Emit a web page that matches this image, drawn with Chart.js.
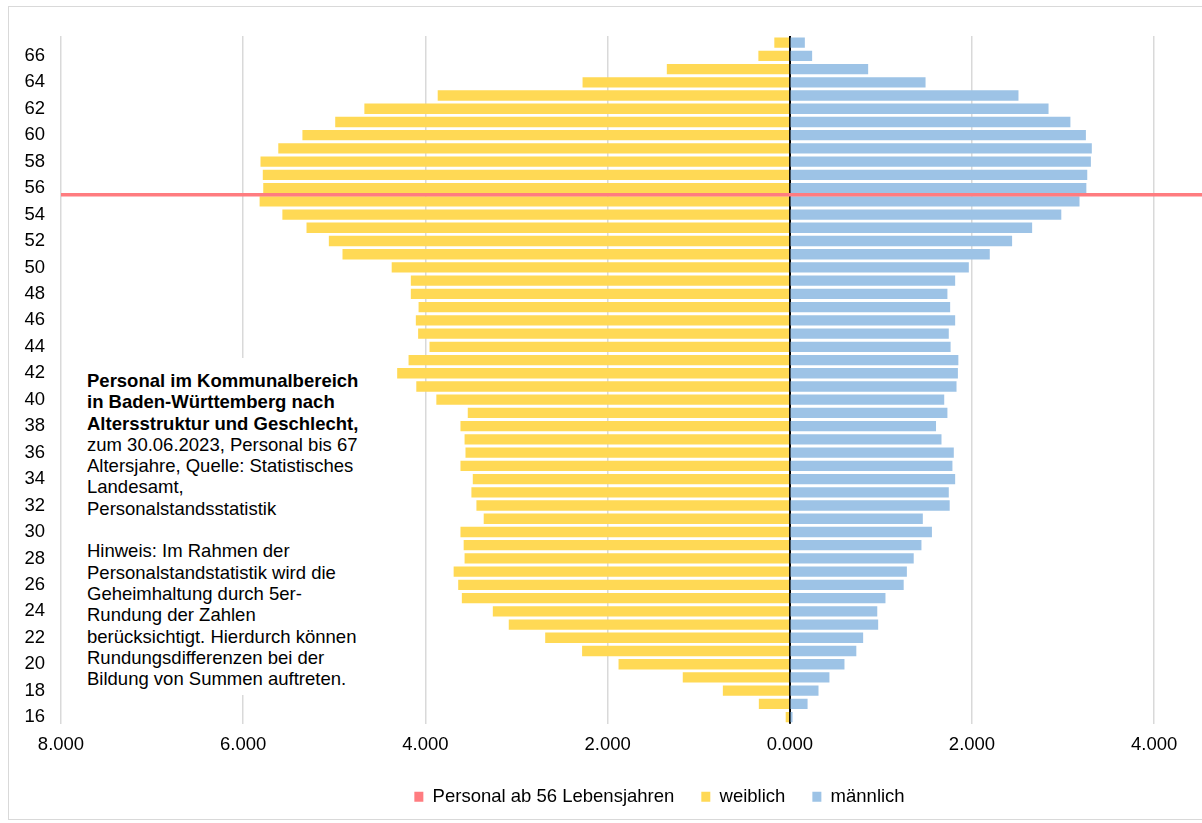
<!DOCTYPE html>
<html lang="de">
<head>
<meta charset="utf-8">
<title>Personal im Kommunalbereich Baden-Württemberg</title>
<script src="https://cdn.jsdelivr.net/npm/chart.js@4/dist/chart.umd.min.js"></script>
<style>
html, body { margin: 0; padding: 0; overflow: hidden; background: #fff; width: 1202px; height: 823px; }
#frame { position: absolute; left: 8px; top: 6px; width: 1310px; height: 812px; border: 1px solid #d9d9d9; }
#note {
    position: absolute; left: 80px; top: 358px; width: 295px; height: 337px;
    box-sizing: border-box; padding: 12px 0 0 7px; background: #fff;
    font: 18.5px/21.3px "Liberation Sans", Arial, sans-serif; color: #000; white-space: nowrap;
}
</style>
</head>
<body>
<div id="frame"><canvas id="pyramid"></canvas></div>
<div id="note"><b>Personal im Kommunalbereich<br>in Baden-Württemberg nach<br>Altersstruktur und Geschlecht,</b><br>zum 30.06.2023, Personal bis 67<br>Altersjahre, Quelle: Statistisches<br>Landesamt,<br>Personalstandsstatistik<br><br>Hinweis: Im Rahmen der<br>Personalstandstatistik wird die<br>Geheimhaltung durch 5er-<br>Rundung der Zahlen<br>berücksichtigt. Hierdurch können<br>Rundungsdifferenzen bei der<br>Bildung von Summen auftreten.</div>
<script>
// Altersjahre 16 .. 67
const ages = [16, 17, 18, 19, 20, 21, 22, 23, 24, 25, 26, 27, 28, 29, 30, 31, 32, 33, 34, 35, 36, 37, 38, 39, 40, 41,
    42, 43, 44, 45, 46, 47, 48, 49, 50, 51, 52, 53, 54, 55, 56, 57, 58, 59, 60, 61, 62, 63, 64, 65, 66, 67];
const weiblich = [45, 340, 735, 1175, 1880, 2280, 2685, 3085, 3260, 3600, 3640, 3690, 3570, 3580, 3615, 3360, 3440,
    3495, 3480, 3615, 3560, 3570, 3615, 3535, 3880, 4100, 4310, 4185, 3955, 4080, 4105, 4075, 4160, 4160, 4370, 4910,
    5060, 5305, 5570, 5820, 5780, 5785, 5810, 5615, 5350, 4990, 4670, 3865, 2275, 1350, 345, 170];
const maennlich = [30, 195, 315, 435, 600, 730, 805, 970, 960, 1050, 1250, 1285, 1360, 1445, 1560, 1460, 1755,
    1745, 1815, 1785, 1800, 1665, 1605, 1730, 1695, 1830, 1845, 1850, 1765, 1745, 1815, 1760, 1730, 1815, 1965, 2195,
    2440, 2660, 2980, 3180, 3255, 3265, 3305, 3315, 3250, 3080, 2840, 2510, 1490, 860, 245, 165];
const xTicks = [-8000, -6000, -4000, -2000, 0, 2000, 4000];
const xMin = -8000, xMax = 5710;
// Grenze "ab 56 Lebensjahren" liegt zwischen 55 und 56
const grenzeAlter = 55.5;

Chart.defaults.font.family = '"Liberation Sans", Arial, sans-serif';
Chart.defaults.font.size = 18.5;
Chart.defaults.color = '#000';

new Chart(document.getElementById('pyramid'), {
    type: 'bar',
    data: {
        labels: ages.map(String),
        datasets: [
            {
                type: 'line', label: 'Personal ab 56 Lebensjahren', indexAxis: 'y',
                data: [{x: xMin, y: grenzeAlter}, {x: xMax, y: grenzeAlter}],
                xAxisID: 'x', yAxisID: 'y2',
                borderColor: '#ff7c80', backgroundColor: '#ff7c80', borderWidth: 3.5,
                pointRadius: 0, fill: false
            },
            {
                label: 'weiblich', data: weiblich.map(v => -v),
                backgroundColor: '#ffd955', borderWidth: 0,
                grouped: false, barPercentage: 0.78, categoryPercentage: 1
            },
            {
                label: 'männlich', data: maennlich,
                backgroundColor: '#9dc3e6', borderWidth: 0,
                grouped: false, barPercentage: 0.78, categoryPercentage: 1
            }
        ]
    },
    options: {
        indexAxis: 'y',
        responsive: true, maintainAspectRatio: false, animation: false,
        layout: {padding: {left: 0, right: 9, top: 29, bottom: 3}},
        scales: {
            x: {
                type: 'linear', stacked: true, min: xMin, max: xMax,
                afterBuildTicks: s => { s.ticks = xTicks.map(v => ({value: v})); },
                afterFit: s => { s.height = 36.75; },
                grid: {color: '#d9d9d9', lineWidth: 1.5, drawTicks: false},
                border: {display: false},
                ticks: {padding: 10, maxRotation: 0, callback: v => (Math.abs(v) / 1000).toFixed(3)}
            },
            // schwarze Nulllinie über den Balken
            xZero: {
                type: 'linear', position: 'top', min: xMin, max: xMax, z: 1,
                afterBuildTicks: s => { s.ticks = [{value: 0}]; },
                afterFit: s => { s.height = 0; },
                grid: {color: '#000', lineWidth: 2, drawTicks: false},
                border: {display: false},
                ticks: {display: false}
            },
            y: {
                type: 'category', stacked: true, reverse: true,
                afterFit: s => { s.width = 52; },
                grid: {display: false}, border: {display: false},
                ticks: {
                    autoSkip: false, padding: 8,
                    callback: (v, i) => (ages[i] % 2 === 0 ? String(ages[i]) : '')
                }
            },
            y2: {type: 'linear', display: false, min: 15.5, max: 67.5, offset: false}
        },
        plugins: {
            tooltip: {enabled: false},
            legend: {
                position: 'bottom',
                labels: {
                    boxWidth: 9, boxHeight: 10, padding: 27,
                    generateLabels: c => Chart.defaults.plugins.legend.labels.generateLabels(c).map(item => {
                        item.lineWidth = 0;
                        item.fillStyle = c.data.datasets[item.datasetIndex].backgroundColor;
                        return item;
                    })
                }
            }
        }
    }
});
</script>
</body>
</html>
